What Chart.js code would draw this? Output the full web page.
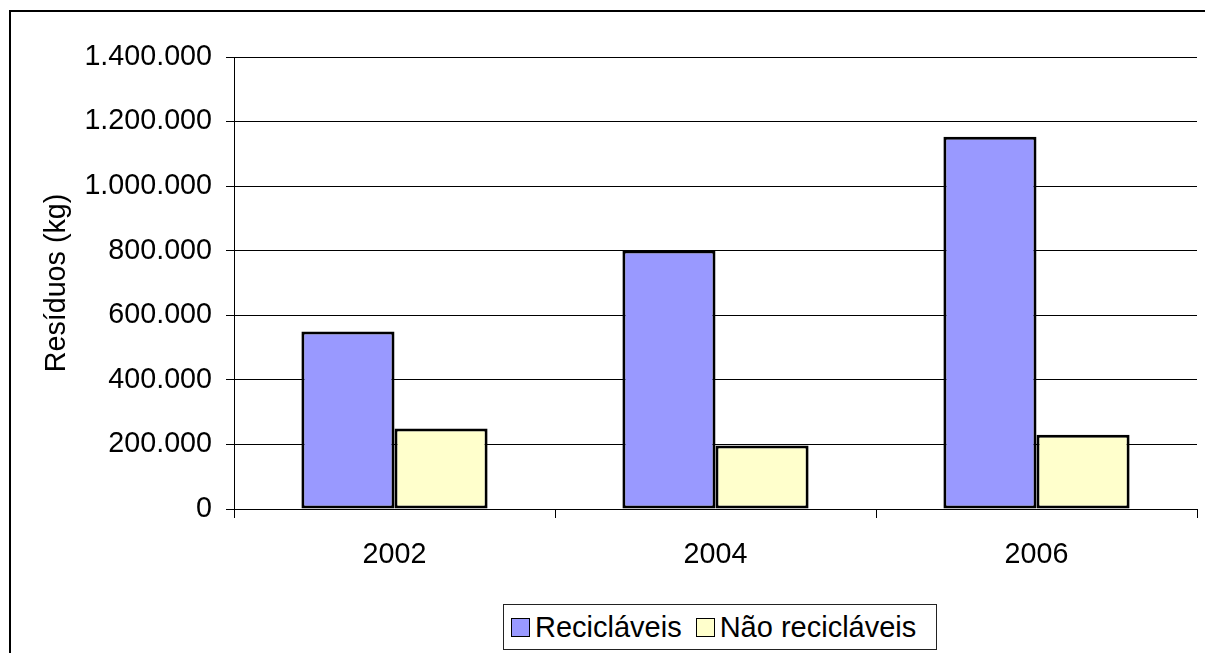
<!DOCTYPE html>
<html>
<head>
<meta charset="utf-8">
<script src="https://cdn.jsdelivr.net/npm/chart.js@4"></script>
<style>
  html, body { margin: 0; padding: 0; background: #fff; overflow: hidden; }
  #wrap { position: relative; width: 1205px; height: 653px; }
  #frame { position: absolute; left: 9px; top: 10px; width: 1300px; height: 800px; border: 2px solid #000; box-sizing: border-box; }
  #chart { position: absolute; left: 0; top: 0; }
  #legend {
    position: absolute; left: 503px; top: 604px; width: 434px; height: 46px;
    border: 1px solid #222; box-sizing: border-box; background: #fff;
    display: flex; align-items: center; padding-left: 7px;
    font-family: "Liberation Sans", Arial, sans-serif; font-size: 29px; color: #000;
  }
  .item { display: flex; align-items: center; margin-right: 14px; }
  .box { width: 17px; height: 17px; border: 1px solid #000; margin-right: 5px; }
</style>
</head>
<body>
<div id="wrap">
  <div id="frame"></div>
  <canvas id="chart" width="1205" height="653"></canvas>
  <div id="legend"></div>
</div>
<script>
const years = ['2002', '2004', '2006'];
const seriesNames = ['Recicláveis', 'Não recicláveis'];
const reciclaveis = [550000, 801000, 1153000];
const naoReciclaveis = [249000, 197000, 230000];
const seriesColors = ['#9999FF', '#FFFFCC'];

const fontFamily = '"Liberation Sans", Arial, sans-serif';

function formatPt(v) {
    return String(v).replace(/\B(?=(\d{3})+(?!\d))/g, '.');
}

const ctx = document.getElementById('chart').getContext('2d');

new Chart(ctx, {
    type: 'bar',
    data: {
        labels: years,
        datasets: [
            {
                label: seriesNames[0],
                data: reciclaveis,
                backgroundColor: seriesColors[0],
                borderColor: '#000',
                borderWidth: 3,
                borderSkipped: false
            },
            {
                label: seriesNames[1],
                data: naoReciclaveis,
                backgroundColor: seriesColors[1],
                borderColor: '#000',
                borderWidth: 3,
                borderSkipped: false
            }
        ]
    },
    options: {
        responsive: false,
        animation: false,
        layout: { padding: { top: 57, right: 8, left: 0, bottom: 0 } },
        categoryPercentage: 0.58,
        barPercentage: 1.0,
        scales: {
            x: {
                grid: {
                    offset: true,
                    drawOnChartArea: false,
                    drawTicks: true,
                    tickLength: 9,
                    color: '#000'
                },
                border: { display: true, color: '#000', width: 1 },
                ticks: {
                    color: '#000',
                    padding: 20,
                    font: { family: fontFamily, size: 28.7 }
                },
                afterFit: (scale) => { scale.height = 144; }
            },
            y: {
                min: 0,
                max: 1400000,
                grid: {
                    color: '#000',
                    tickLength: 8,
                    drawTicks: true
                },
                border: { display: true, color: '#000', width: 1 },
                ticks: {
                    stepSize: 200000,
                    color: '#000',
                    padding: 14,
                    font: { family: fontFamily, size: 28.7 },
                    callback: (v) => formatPt(v)
                },
                title: {
                    display: true,
                    text: 'Resíduos (kg)',
                    color: '#000',
                    font: { family: fontFamily, size: 28.7 },
                    padding: { top: 40, bottom: 0 }
                },
                afterFit: (scale) => { scale.width = 234; }
            }
        },
        plugins: {
            legend: { display: false },
            tooltip: { enabled: false }
        }
    }
});

// legend
const legendEl = document.getElementById('legend');
legendEl.innerHTML = seriesNames.map((name, i) => `
    <div class="item"><div class="box" style="background:${seriesColors[i]}"></div><span>${name}</span></div>
`).join('');
</script>
</body>
</html>
